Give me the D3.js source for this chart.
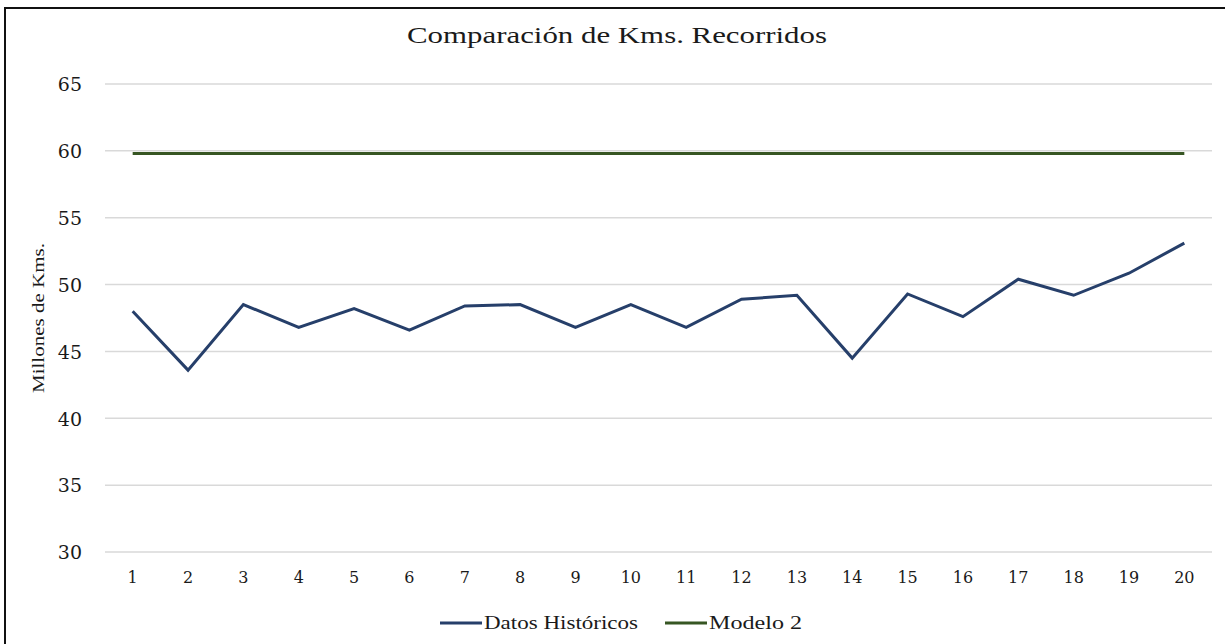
<!DOCTYPE html>
<html>
<head>
<meta charset="utf-8">
<script src="https://cdn.jsdelivr.net/npm/d3@7"></script>
<style>
  body { margin: 0; background: #fff; }
</style>
</head>
<body>
<div class="km-chart"></div>
<script>
// data
var periods = d3.range(1, 21);
var historicos = [48.0, 43.6, 48.5, 46.8, 48.2, 46.6, 48.4, 48.5, 46.8, 48.5,
                  46.8, 48.9, 49.2, 44.5, 49.3, 47.6, 50.4, 49.2, 50.85, 53.1];
var modelo2 = [59.8, 59.8, 59.8, 59.8, 59.8, 59.8, 59.8, 59.8, 59.8, 59.8,
               59.8, 59.8, 59.8, 59.8, 59.8, 59.8, 59.8, 59.8, 59.8, 59.8];
var yTicks = [30, 35, 40, 45, 50, 55, 60, 65];
var seriesNames = ["Datos Históricos", "Modelo 2"];

var viewbox_width = 1225,
    viewbox_height = 644;
var plot = {left: 105, right: 1212, top: 84, bottom: 552};
var colors = {hist: "#263f6a", modelo: "#375623", grid: "#d9d9d9", text: "#1a1a1a"};
var serif = "'DejaVu Serif', 'Liberation Serif', serif",
    times = "'Liberation Serif', 'DejaVu Serif', serif";

var svg = d3.select(".km-chart")
  .append("svg")
    .attr("class", "chart")
    .attr("width", viewbox_width)
    .attr("height", viewbox_height);

// outer frame, runs off the right and bottom edges like the picture
svg.append("rect")
    .attr("x", 5)
    .attr("y", 8)
    .attr("width", 1240)
    .attr("height", 660)
    .attr("fill", "none")
    .attr("stroke", "#111")
    .attr("stroke-width", 2);

// scales
var xScale = d3.scaleBand().domain(periods).range([plot.left, plot.right]),
    xMap = function(d, i) { return xScale(periods[i]) + xScale.bandwidth() / 2; };
var yScale = d3.scaleLinear().domain([30, 65]).range([plot.bottom, plot.top]);

// gridlines
svg.append("g")
    .attr("class", "grid")
  .selectAll("line")
    .data(yTicks)
  .enter().append("line")
    .attr("x1", plot.left)
    .attr("x2", plot.right)
    .attr("y1", function(d) { return yScale(d); })
    .attr("y2", function(d) { return yScale(d); })
    .attr("stroke", colors.grid)
    .attr("stroke-width", 1.5);

// y axis labels
var yAxis = d3.axisLeft(yScale).tickValues(yTicks).tickSize(0).tickPadding(0);
var yaxisg = svg.append("g")
    .attr("transform", "translate(82,0)")
    .call(yAxis);
yaxisg.select(".domain").remove();
yaxisg.selectAll(".tick text")
    .style("font-family", serif)
    .style("font-size", "19px")
    .attr("fill", colors.text)
    .attr("dy", "0.36em");

// x axis labels
var xAxis = d3.axisBottom(xScale).tickSize(0).tickPadding(0);
var xaxisg = svg.append("g")
    .attr("transform", "translate(0,572)")
    .call(xAxis);
xaxisg.select(".domain").remove();
xaxisg.selectAll(".tick text")
    .style("font-family", serif)
    .style("font-size", "16px")
    .attr("fill", colors.text)
    .attr("dy", "0.71em");

// y axis title
svg.append("text")
    .attr("transform", "translate(44,318)rotate(-90)")
    .style("text-anchor", "middle")
    .style("font-family", times)
    .style("font-size", "16px")
    .attr("fill", colors.text)
    .attr("textLength", 150)
    .attr("lengthAdjust", "spacingAndGlyphs")
    .text("Millones de Kms.");

// heading
svg.append("text")
    .attr("x", 617)
    .attr("y", 43)
    .style("text-anchor", "middle")
    .style("font-family", times)
    .style("font-size", "24px")
    .attr("fill", colors.text)
    .attr("textLength", 420)
    .attr("lengthAdjust", "spacingAndGlyphs")
    .text("Comparación de Kms. Recorridos");

// lines
var line = d3.line()
    .x(xMap)
    .y(function(d) { return yScale(d); });

svg.append("path")
    .datum(modelo2)
    .attr("d", line)
    .attr("fill", "none")
    .attr("stroke", colors.modelo)
    .attr("stroke-width", 3);

svg.append("path")
    .datum(historicos)
    .attr("d", line)
    .attr("fill", "none")
    .attr("stroke", colors.hist)
    .attr("stroke-width", 3)
    .attr("stroke-linejoin", "miter");

// legend
var legendItems = [
    {name: seriesNames[0], color: colors.hist, x: 440, w: 154},
    {name: seriesNames[1], color: colors.modelo, x: 665, w: 93}
];
var legend = svg.append("g").attr("class", "legend");
var li = legend.selectAll("g")
    .data(legendItems)
  .enter().append("g")
    .attr("transform", function(d) { return "translate(" + d.x + ",623)"; });
li.append("line")
    .attr("x1", 0)
    .attr("x2", 42)
    .attr("stroke", function(d) { return d.color; })
    .attr("stroke-width", 3);
li.append("text")
    .attr("x", 44)
    .attr("y", 6)
    .style("font-family", times)
    .style("font-size", "19px")
    .attr("fill", colors.text)
    .attr("textLength", function(d) { return d.w; })
    .attr("lengthAdjust", "spacingAndGlyphs")
    .text(function(d) { return d.name; });
</script>
</body>
</html>
